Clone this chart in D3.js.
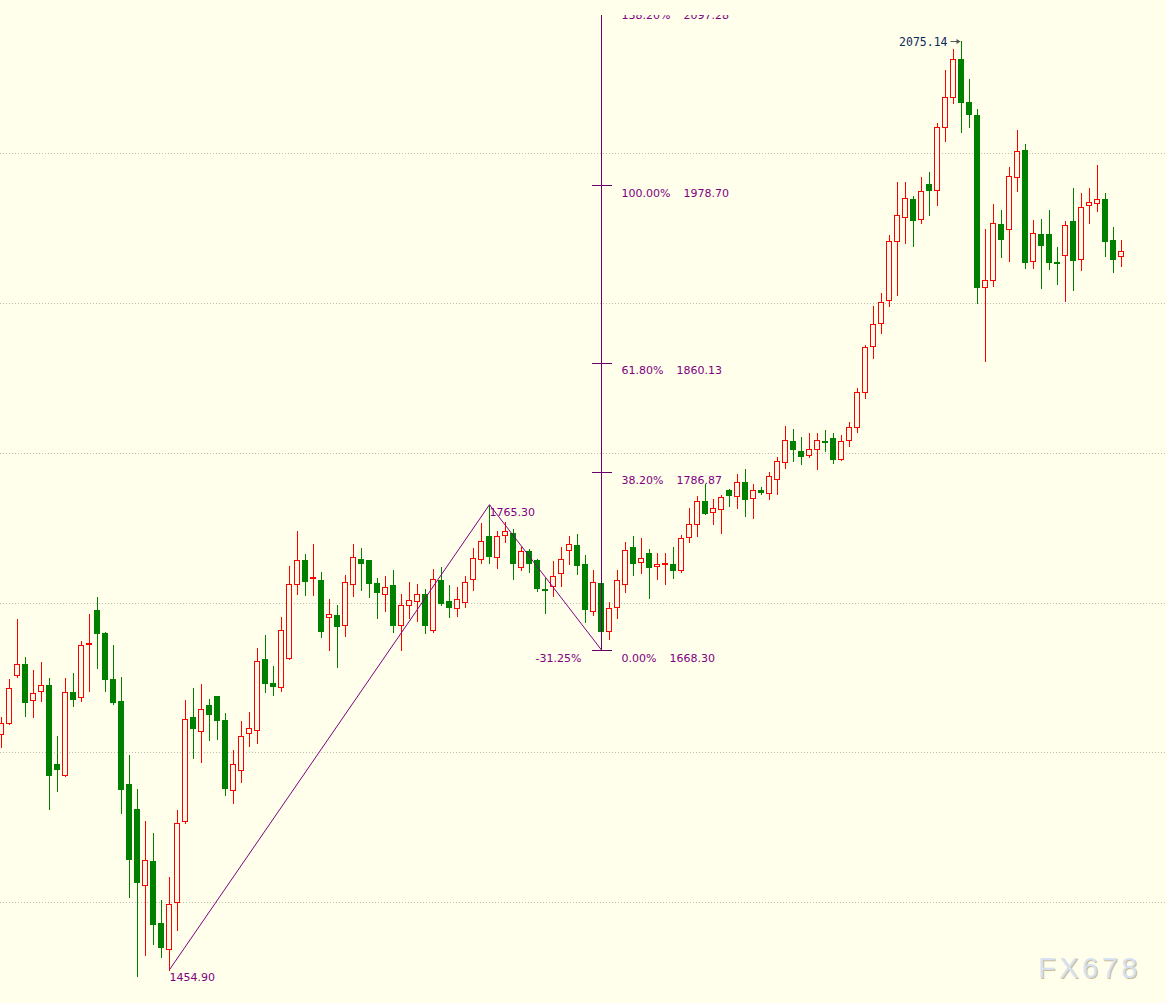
<!DOCTYPE html>
<html>
<head>
<meta charset="utf-8">
<script src="https://cdn.jsdelivr.net/npm/d3@7/dist/d3.min.js"></script>
<style>
  html, body { margin: 0; padding: 0; background: #FFFFEC; }
  svg { display: block; }
</style>
</head>
<body>
<svg id="chart" width="1166" height="1003"></svg>
<script>
// ---------------- DATA ----------------
const opens = [1612.2,1619.8,1651.4,1659.0,1634.7,1640.7,1644.9,1592.2,1584.7,1640.3,
1637.1,1672.1,1695.0,1679.9,1649.1,1634.5,1578.9,1562.2,1511.2,1527.5,
1486.3,1468.9,1500.3,1554.0,1623.6,1614.0,1631.6,1637.6,1621.6,1574.7,
1588.0,1612.7,1614.7,1662.3,1646.3,1643.4,1662.8,1712.2,1728.2,1716.4,
1715.0,1690.1,1691.7,1684.8,1712.2,1728.8,1728.4,1712.8,1705.5,1711.5,
1685.2,1698.1,1700.8,1705.5,1681.5,1715.0,1701.0,1696.1,1700.1,1715.5,
1728.8,1744.4,1730.2,1744.9,1746.6,1723.5,1734.6,1728.4,1709.2,1711.2,
1719.5,1734.9,1738.2,1725.7,1694.5,1712.8,1681.0,1696.8,1712.6,1736.9,
1726.8,1732.9,1724.2,1725.9,1725.7,1721.9,1743.5,1752.2,1767.8,1760.2,
1762.6,1775.1,1770.9,1780.2,1769.6,1774.9,1772.9,1782.4,1794.0,1807.8,
1801.1,1798.7,1802.3,1807.8,1809.6,1796.1,1808.8,1817.0,1840.3,1871.0,
1886.4,1901.9,1941.1,1957.5,1969.3,1955.8,1979.4,1975.6,2017.6,2037.6,
2062.6,2034.1,2025.2,1910.4,1915.1,1952.7,1949.1,1983.8,2002.1,1927.8,
1946.0,1946.0,1927.5,1931.8,1954.7,1929.1,1965.1,1966.5,1969.3,1942.0,
1931.1];
const highs = [1623.8,1648.7,1688.8,1663.8,1655.0,1660.5,1649.6,1610.9,1649.6,1653.0,
1674.3,1692.3,1703.9,1680.3,1671.8,1650.3,1598.2,1575.5,1554.4,1546.2,
1501.4,1517.0,1561.5,1634.9,1642.9,1645.6,1635.6,1637.6,1626.3,1601.6,
1620.9,1626.9,1669.6,1678.3,1657.6,1690.3,1724.4,1747.7,1732.4,1739.1,
1720.4,1702.3,1698.3,1718.4,1739.1,1736.4,1728.4,1716.2,1717.7,1721.7,
1705.7,1713.9,1712.2,1708.8,1722.4,1723.9,1711.7,1710.6,1717.7,1736.2,
1752.9,1765.3,1747.9,1753.5,1748.9,1737.3,1735.5,1729.0,1716.2,1727.9,
1737.3,1744.4,1745.9,1731.7,1721.7,1716.4,1700.5,1721.7,1740.2,1744.4,
1743.1,1735.7,1732.9,1732.9,1737.3,1745.1,1762.9,1771.3,1779.1,1769.1,
1771.8,1776.0,1785.6,1789.1,1779.1,1777.1,1786.9,1797.1,1817.8,1815.8,
1810.7,1813.0,1813.0,1815.2,1813.0,1811.8,1820.3,1843.0,1871.9,1897.9,
1906.4,1945.3,1980.7,1980.7,1971.4,1984.2,1987.4,2019.9,2055.5,2069.5,
2075.14,2049.4,2029.4,1949.3,1966.2,1962.0,1990.9,2015.4,2006.1,1955.3,
1956.0,1962.0,1937.3,1954.5,1976.7,1973.2,1976.7,1992.0,1973.4,1950.7,
1942.0];
const lows = [1603.4,1618.7,1650.1,1624.2,1623.8,1634.3,1562.4,1574.4,1584.0,1631.1,
1634.5,1641.1,1656.5,1641.1,1632.3,1559.7,1503.6,1450.7,1464.9,1472.1,
1463.6,1454.9,1481.4,1552.6,1596.4,1593.7,1608.4,1609.1,1571.7,1566.4,
1580.4,1604.4,1606.4,1640.5,1638.5,1641.1,1662.0,1705.9,1705.2,1705.2,
1677.2,1668.5,1657.2,1677.9,1704.6,1708.4,1703.9,1689.5,1694.5,1680.0,
1668.1,1689.5,1687.9,1679.9,1680.5,1698.3,1690.1,1691.2,1697.0,1708.4,
1726.2,1726.2,1723.2,1740.2,1715.5,1721.7,1720.6,1707.7,1693.2,1704.4,
1711.2,1725.7,1718.8,1686.8,1691.7,1668.3,1675.4,1689.5,1706.8,1718.4,
1719.9,1703.2,1715.9,1712.2,1716.6,1720.2,1740.2,1744.6,1759.1,1752.6,
1746.6,1764.6,1763.3,1758.0,1756.6,1772.2,1769.3,1772.6,1790.1,1794.7,
1792.3,1797.3,1789.1,1801.1,1793.3,1794.8,1804.8,1814.0,1836.7,1862.9,
1880.1,1897.9,1905.3,1940.2,1938.2,1953.5,1958.7,1965.5,2008.3,2033.6,
2014.1,2017.6,1900.1,1861.2,1911.3,1930.6,1928.2,1974.9,1923.5,1923.5,
1910.1,1922.8,1912.8,1901.5,1908.8,1922.2,1953.5,1961.5,1931.5,1920.8,
1924.8];
const closes = [1619.4,1642.7,1658.8,1633.8,1639.4,1644.7,1585.1,1589.1,1640.1,1635.8,
1671.4,1673.0,1679.9,1649.1,1633.6,1575.7,1529.0,1513.6,1528.1,1485.6,
1470.3,1498.8,1552.6,1622.0,1616.4,1628.7,1625.8,1621.8,1576.4,1592.2,
1610.7,1616.0,1660.8,1646.5,1644.5,1681.5,1712.2,1728.2,1714.6,1716.8,
1681.2,1692.1,1684.5,1713.5,1730.2,1726.6,1712.7,1706.8,1710.2,1684.8,
1698.1,1701.5,1705.5,1685.2,1715.5,1699.7,1697.0,1702.1,1713.5,1729.5,
1740.9,1731.3,1744.2,1747.5,1726.2,1734.2,1726.2,1709.9,1708.6,1717.5,
1728.8,1739.1,1725.2,1695.9,1713.4,1681.2,1696.1,1715.0,1734.9,1726.6,
1729.5,1723.9,1725.5,1726.4,1721.9,1742.9,1752.4,1767.6,1759.8,1762.9,
1770.2,1772.0,1780.2,1769.3,1774.9,1774.0,1784.3,1794.3,1808.5,1802.7,
1798.0,1802.5,1808.5,1807.1,1796.1,1808.1,1817.0,1840.3,1870.4,1885.7,
1900.4,1941.1,1958.5,1969.8,1955.5,1974.5,1975.6,2017.2,2037.2,2062.6,
2034.3,2026.3,1910.8,1915.1,1953.1,1942.6,1984.7,2001.2,1927.5,1946.5,
1938.8,1927.5,1926.8,1951.8,1928.8,1963.8,1967.1,1969.1,1941.5,1929.5,
1934.4];

// grid levels (price)
const gridLevels = [2000, 1900, 1800, 1700, 1600, 1500];

// zigzag swing points: [bar index, price]
const swingIdx = [21, 61, 75];
const swingPrice = [1454.90, 1765.30, 1668.30];
const swingLabels = ["1454.90", "1765.30"];
const retraceLabel = "-31.25%";

// Fibonacci expansion levels
const fibRatios = [0, 0.382, 0.618, 1.0, 1.382];
const fibPctLabels = ["0.00%", "38.20%", "61.80%", "100.00%", "138.20%"];
const fibPriceLabels = ["1668.30", "1786.87", "1860.13", "1978.70", "2097.28"];

// max annotation
const maxIdx = 120;
const maxLabel = "2075.14";

const watermark = "FX678";

// ---------------- CHART ----------------
const W = 1166, H = 1003;
const n = opens.length;
const svg = d3.select("#chart");

svg.append("rect").attr("width", W).attr("height", H).attr("fill", "#FFFFEC");

svg.append("defs").append("clipPath").attr("id", "plot")
  .append("rect").attr("x", 0).attr("y", 15).attr("width", W).attr("height", H - 15);

const g = svg.append("g").attr("clip-path", "url(#plot)");

const x = d3.scaleBand().domain(d3.range(n)).range([-2.5, -2.5 + n * 8]).padding(0);
const cx = i => x(i) + x.bandwidth() / 2;

const swingRange = swingPrice[1] - swingPrice[0];
const fibBase = swingPrice[2];
const fibValues = fibRatios.map(r => fibBase + r * swingRange);

const y = d3.scaleLinear().domain([fibValues[0], fibValues[3]]).range([650, 185]);

// gridlines
g.selectAll("line.grid").data(gridLevels).enter().append("line")
  .attr("class", "grid")
  .attr("x1", 0).attr("x2", W)
  .attr("y1", d => Math.round(y(d)) + 0.5).attr("y2", d => Math.round(y(d)) + 0.5)
  .attr("stroke", "#BDBDB5").attr("stroke-width", 1)
  .attr("stroke-dasharray", "1,2")
  .attr("shape-rendering", "crispEdges");

const UP = "#FF0000", DOWN = "#008000";
const bars = d3.range(n).map(i => ({ i, o: opens[i], h: highs[i], l: lows[i], c: closes[i] }));

const cg = g.append("g");
const candle = cg.selectAll("g.c").data(bars).enter().append("g").attr("class", "c");

candle.append("line")
  .attr("x1", d => cx(d.i)).attr("x2", d => cx(d.i))
  .attr("y1", d => Math.round(y(d.h))).attr("y2", d => Math.round(y(d.l)) + 1)
  .attr("stroke", d => d.c >= d.o ? UP : DOWN)
  .attr("stroke-width", 1)
  .attr("shape-rendering", "crispEdges");

candle.each(function(d) {
  const sel = d3.select(this);
  const top = Math.round(y(Math.max(d.o, d.c)));
  const bot = Math.round(y(Math.min(d.o, d.c)));
  if (d.c >= d.o) {
    sel.append("rect")
      .attr("x", cx(d.i) - 3).attr("width", 5)
      .attr("y", top + 0.5).attr("height", Math.max(1, bot - top))
      .attr("fill", "#FFFFEC").attr("stroke", UP).attr("stroke-width", 1)
      .attr("shape-rendering", "crispEdges");
  } else {
    sel.append("rect")
      .attr("x", cx(d.i) - 3.5).attr("width", 6)
      .attr("y", top).attr("height", Math.max(1, bot - top + 1))
      .attr("fill", DOWN)
      .attr("shape-rendering", "crispEdges");
  }
});

// zigzag
const PURPLE = "#800080";
const zz = swingIdx.map((idx, k) => [cx(idx), y(swingPrice[k])]);
g.append("path").attr("d", d3.line()(zz))
  .attr("fill", "none").attr("stroke", PURPLE).attr("stroke-width", 1);

const lblFont = "'DejaVu Sans', Verdana, sans-serif";
swingLabels.forEach((t, k) => {
  g.append("text").attr("x", cx(swingIdx[k])).attr("y", y(swingPrice[k]) + 11.5)
    .attr("font-family", lblFont).attr("font-size", 11).attr("fill", PURPLE).text(t);
});
g.append("text").attr("x", cx(swingIdx[2]) - 20).attr("y", y(swingPrice[2]) + 11.5)
  .attr("text-anchor", "end")
  .attr("font-family", lblFont).attr("font-size", 11).attr("fill", PURPLE).text(retraceLabel);

// fib vertical & levels
const fx = cx(swingIdx[2]);
g.append("line").attr("x1", fx).attr("x2", fx)
  .attr("y1", y(fibValues[0])).attr("y2", y(fibValues[fibValues.length - 1]))
  .attr("stroke", "#6B006B").attr("stroke-width", 1).attr("shape-rendering", "crispEdges");

fibValues.forEach((v, k) => {
  const yy = Math.round(y(v)) + 0.5;
  g.append("line").attr("x1", fx - 10).attr("x2", fx + 10).attr("y1", yy).attr("y2", yy)
    .attr("stroke", "#6B006B").attr("stroke-width", 1).attr("shape-rendering", "crispEdges");
  const t = g.append("text").attr("x", fx + 20).attr("y", y(v) + 11.5)
    .attr("font-family", lblFont).attr("font-size", 11).attr("fill", PURPLE);
  t.append("tspan").text(fibPctLabels[k]);
  t.append("tspan").attr("dx", 13).text(fibPriceLabels[k]);
});

// max label with arrow
const mx = cx(maxIdx), my = y(highs[maxIdx]);
g.append("text").attr("x", mx - 14).attr("y", my + 5.5).attr("text-anchor", "end")
  .attr("font-family", "'DejaVu Sans Mono', monospace").attr("font-size", 11.5)
  .attr("fill", "#0B2A5A").text(maxLabel);
g.append("line").attr("x1", mx - 11).attr("x2", mx - 2).attr("y1", Math.round(my) + 0.5).attr("y2", Math.round(my) + 0.5)
  .attr("stroke", "#555").attr("stroke-width", 1);
g.append("path")
  .attr("d", `M${mx - 1},${Math.round(my) + 0.5} l-4,-2.5 l0,5 z`)
  .attr("fill", "#555");

// watermark
svg.append("text").attr("x", 1039).attr("y", 979)
  .attr("font-family", "'Liberation Sans', Arial, sans-serif").attr("font-size", 29)
  .attr("letter-spacing", 3.5).attr("fill", "#CDBB94").text(watermark);
svg.append("text").attr("x", 1038).attr("y", 978)
  .attr("font-family", "'Liberation Sans', Arial, sans-serif").attr("font-size", 29)
  .attr("letter-spacing", 3.5).attr("fill", "#D6E2F2").text(watermark);
</script>
</body>
</html>
